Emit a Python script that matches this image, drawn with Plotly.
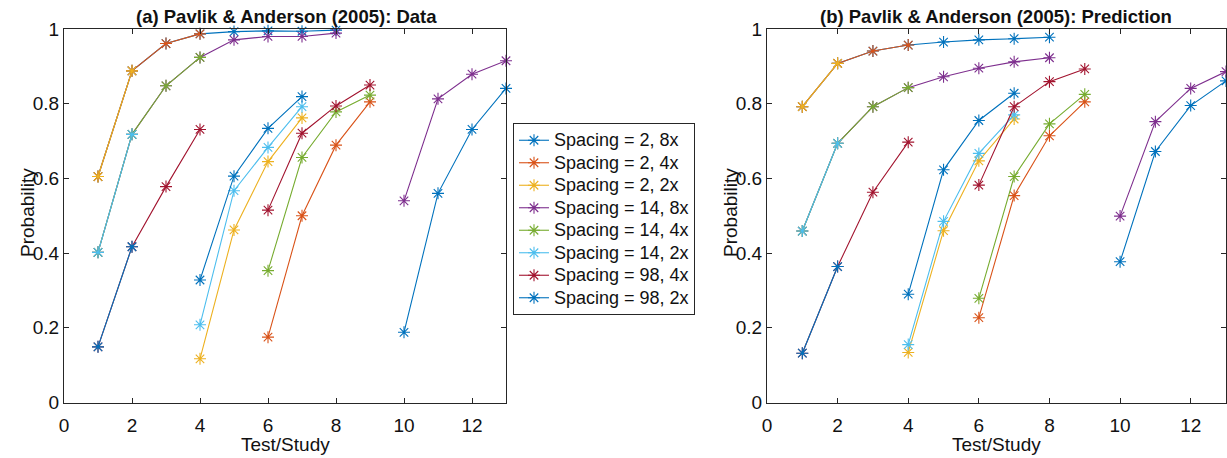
import plotly.graph_objects as go

W, H = 1227, 458

tests = list(range(1, 14))
names = ["Spacing = 2, 8x", "Spacing = 2, 4x", "Spacing = 2, 2x",
         "Spacing = 14, 8x", "Spacing = 14, 4x", "Spacing = 14, 2x",
         "Spacing = 98, 4x", "Spacing = 98, 2x"]
colors = ["#0072BD", "#D95319", "#EDB120", "#7E2F8E", "#77AC30", "#4DBEEE", "#A2142F", "#0072BD"]

N = None
# (a) observed data
data_2_8 = [0.605, 0.888, 0.961, 0.987, 0.993, 0.995, 0.994, 0.997, N, 0.188, 0.560, 0.731, 0.841]
data_2_4 = [0.605, 0.888, 0.961, 0.987, N, 0.175, 0.500, 0.689, 0.805, N, N, N, N]
data_2_2 = [0.605, 0.888, N, 0.117, 0.462, 0.645, 0.762, N, N, N, N, N, N]
data_14_8 = [0.402, 0.718, 0.848, 0.924, 0.971, 0.980, 0.980, 0.989, N, 0.540, 0.813, 0.879, 0.915]
data_14_4 = [0.402, 0.718, 0.848, 0.924, N, 0.353, 0.656, 0.778, 0.823, N, N, N, N]
data_14_2 = [0.402, 0.718, N, 0.208, 0.567, 0.683, 0.792, N, N, N, N, N, N]
data_98_4 = [0.149, 0.417, 0.578, 0.731, N, 0.515, 0.721, 0.794, 0.850, N, N, N, N]
data_98_2 = [0.149, 0.417, N, 0.328, 0.606, 0.734, 0.819, N, N, N, N, N, N]

# (b) model prediction
pred_2_8 = [0.792, 0.908, 0.941, 0.957, 0.965, 0.971, 0.974, 0.978, N, 0.377, 0.672, 0.795, 0.861]
pred_2_4 = [0.792, 0.908, 0.941, 0.957, N, 0.227, 0.554, 0.714, 0.805, N, N, N, N]
pred_2_2 = [0.792, 0.908, N, 0.134, 0.460, 0.647, 0.759, N, N, N, N, N, N]
pred_14_8 = [0.459, 0.694, 0.792, 0.843, 0.872, 0.895, 0.912, 0.923, N, 0.499, 0.752, 0.841, 0.886]
pred_14_4 = [0.459, 0.694, 0.792, 0.843, N, 0.279, 0.605, 0.746, 0.825, N, N, N, N]
pred_14_2 = [0.459, 0.694, N, 0.155, 0.485, 0.667, 0.770, N, N, N, N, N, N]
pred_98_4 = [0.132, 0.364, 0.563, 0.697, N, 0.582, 0.792, 0.859, 0.893, N, N, N, N]
pred_98_2 = [0.132, 0.364, N, 0.290, 0.623, 0.755, 0.828, N, N, N, N, N, N]

data_series = [data_2_8, data_2_4, data_2_2, data_14_8, data_14_4, data_14_2, data_98_4, data_98_2]
pred_series = [pred_2_8, pred_2_4, pred_2_2, pred_14_8, pred_14_4, pred_14_2, pred_98_4, pred_98_2]

x_ticks = [0, 2, 4, 6, 8, 10, 12]
y_ticks = [0, 0.2, 0.4, 0.6, 0.8, 1]
y_labels = ["0", "0.2", "0.4", "0.6", "0.8", "1"]

FONT = "Liberation Sans, Arial, Helvetica, sans-serif"
AX = "#262626"
FS = 19

fig = go.Figure()
for nm, c, ys in zip(names, colors, data_series):
    fig.add_trace(go.Scatter(x=tests, y=ys, mode="lines+markers",
                             name="<span style='font-size:18px'>%s</span>" % nm,
                             line=dict(color=c, width=1.1),
                             marker=dict(symbol="asterisk-open", size=10, color=c,
                                         line=dict(color=c, width=1.1)),
                             cliponaxis=False, xaxis="x", yaxis="y", showlegend=True))
for nm, c, ys in zip(names, colors, pred_series):
    fig.add_trace(go.Scatter(x=tests, y=ys, mode="lines+markers", name=nm,
                             line=dict(color=c, width=1.1),
                             marker=dict(symbol="asterisk-open", size=10, color=c,
                                         line=dict(color=c, width=1.1)),
                             cliponaxis=False, xaxis="x2", yaxis="y2", showlegend=False))

def px_x(p):
    return p / W

def px_y(p):
    return 1 - p / H

ydom = [px_y(402.5), px_y(29)]
common_x = dict(range=[0, 13], tickvals=x_ticks, ticks="inside", ticklen=5, tickcolor=AX,
                showline=True, linecolor=AX, linewidth=1, mirror="ticks", showgrid=False,
                zeroline=False, automargin=False, ticklabelstandoff=6,
                tickfont=dict(family=FONT, size=FS, color="#111"))
common_y = dict(range=[0, 1], tickvals=y_ticks, ticktext=y_labels, ticks="inside", ticklen=5,
                tickcolor=AX, showline=True, linecolor=AX, linewidth=1, mirror="ticks",
                showgrid=False, zeroline=False, automargin=False,
                tickfont=dict(family=FONT, size=FS, color="#111"))

fig.update_layout(
    width=W, height=H, autosize=False,
    margin=dict(l=0, r=0, t=0, b=0, pad=0, autoexpand=False),
    paper_bgcolor="white", plot_bgcolor="white",
    font=dict(family=FONT, size=FS, color="#111"),
    xaxis=dict(domain=[px_x(64), px_x(506)], anchor="y", **common_x),
    yaxis=dict(domain=ydom, anchor="x", **common_y),
    xaxis2=dict(domain=[px_x(767), px_x(1226)], anchor="y2", **common_x),
    yaxis2=dict(domain=ydom, anchor="x2", **common_y),
    legend=dict(x=px_x(513), y=px_y(123), xanchor="left", yanchor="top",
                bordercolor="#262626", borderwidth=1, bgcolor="white",
                font=dict(family=FONT, size=15, color="#111"),
                tracegroupgap=0, itemwidth=30),
    showlegend=True,
)

ann = [
    dict(text="<b>(a) Pavlik & Anderson (2005): Data</b>", x=px_x(286), y=px_y(16.5), size=18.5),
    dict(text="<b>(b) Pavlik & Anderson (2005): Prediction</b>", x=px_x(996), y=px_y(16.5), size=18.5),
    dict(text="Test/Study", x=px_x(285), y=px_y(444), size=FS),
    dict(text="Test/Study", x=px_x(996), y=px_y(444), size=FS),
    dict(text="Probability", x=px_x(28), y=px_y(213), textangle=-90, size=FS),
    dict(text="Probability", x=px_x(731), y=px_y(213), textangle=-90, size=FS),
]
for a in ann:
    sz = a.pop("size")
    fig.add_annotation(xref="paper", yref="paper", showarrow=False, xanchor="center",
                       yanchor="middle", font=dict(family=FONT, size=sz, color="#111"), **a)

fig.write_html("out.html")
